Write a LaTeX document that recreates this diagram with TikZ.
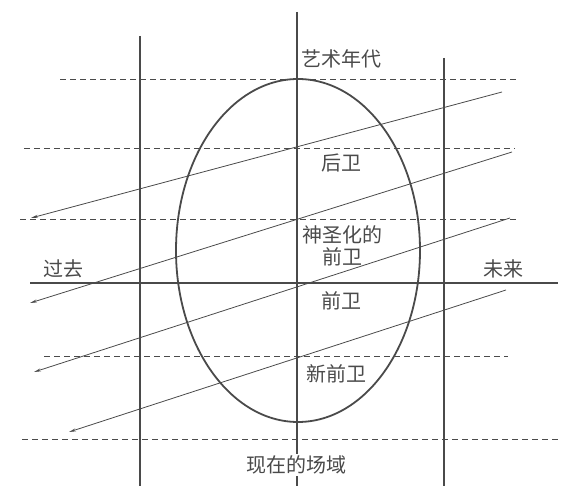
\documentclass[tikz,border=0pt]{standalone}
\usepackage{fontspec}
\newfontfamily\cjk{Noto Sans CJK SC}
\usetikzlibrary{arrows.meta}
\definecolor{ink}{HTML}{4A4A4A}
\begin{document}
\begin{tikzpicture}[x=1pt,y=-1pt,
  axis/.style={draw=ink,line width=1.8pt},
  guide/.style={draw=ink,line width=0.9pt,dash pattern=on 6pt off 4pt},
  flow/.style={draw=ink,line width=0.8pt,-{Stealth[length=7pt,width=3pt]}},
  lbl/.style={font=\cjk\fontsize{20}{22}\selectfont,text=ink,inner sep=1pt,align=center}]
\useasboundingbox (0,0) rectangle (566,486);
% vertical lines
\coordinate (lt) at (140,36); \coordinate (lb) at (140,486);
\coordinate (ct) at (297,12); \coordinate (cb) at (297,486);
\coordinate (rt) at (444,58); \coordinate (rb) at (444,486);
\draw[axis] (lt) -- (lb);
\draw[axis] (ct) -- (cb);
\draw[axis] (rt) -- (rb);
% dashed guides
\coordinate (d1a) at (60,79);  \coordinate (d1b) at (518,79);
\coordinate (d2a) at (24,148); \coordinate (d2b) at (515,148);
\coordinate (d3a) at (20,219); \coordinate (d3b) at (517,219);
\coordinate (d4a) at (44,356); \coordinate (d4b) at (508,356);
\coordinate (d5a) at (22,439); \coordinate (d5b) at (559,439);
\draw[guide] (d1a) -- (d1b);
\draw[guide] (d2a) -- (d2b);
\draw[guide] (d3a) -- (d3b);
\draw[guide] (d4a) -- (d4b);
\draw[guide] (d5a) -- (d5b);
% present horizontal
\coordinate (ha) at (30,283); \coordinate (hb) at (558,283);
\draw[axis] (ha) -- (hb);
% ellipse
\coordinate (ec) at (298,250.5);
\draw[ink,line width=1.8pt] (ec) ellipse [x radius=122, y radius=171.5];
% trajectories
\coordinate (a1s) at (502,92);  \coordinate (a1e) at (31,218);
\coordinate (a2s) at (512,152); \coordinate (a2e) at (30,303);
\coordinate (a3s) at (510,218); \coordinate (a3e) at (34,372);
\coordinate (a4s) at (506,290); \coordinate (a4e) at (69,432);
\draw[flow] (a1s) -- (a1e);
\draw[flow] (a2s) -- (a2e);
\draw[flow] (a3s) -- (a3e);
\draw[flow] (a4s) -- (a4e);
% labels
\node[lbl] (era) at (341,59) {艺术年代};
\node[lbl] (rear) at (341,163) {后卫};
\node[lbl] (cons) at (342,246) {神圣化的\\前卫};
\node[lbl] (avant) at (341,301) {前卫};
\node[lbl] (neo) at (336,374) {新前卫};
\node[lbl] (past) at (63,269) {过去};
\node[lbl] (fut) at (503,269) {未来};
\node[lbl,fill=white,inner sep=2pt] (field) at (296,465) {现在的场域};
\end{tikzpicture}
\end{document}
